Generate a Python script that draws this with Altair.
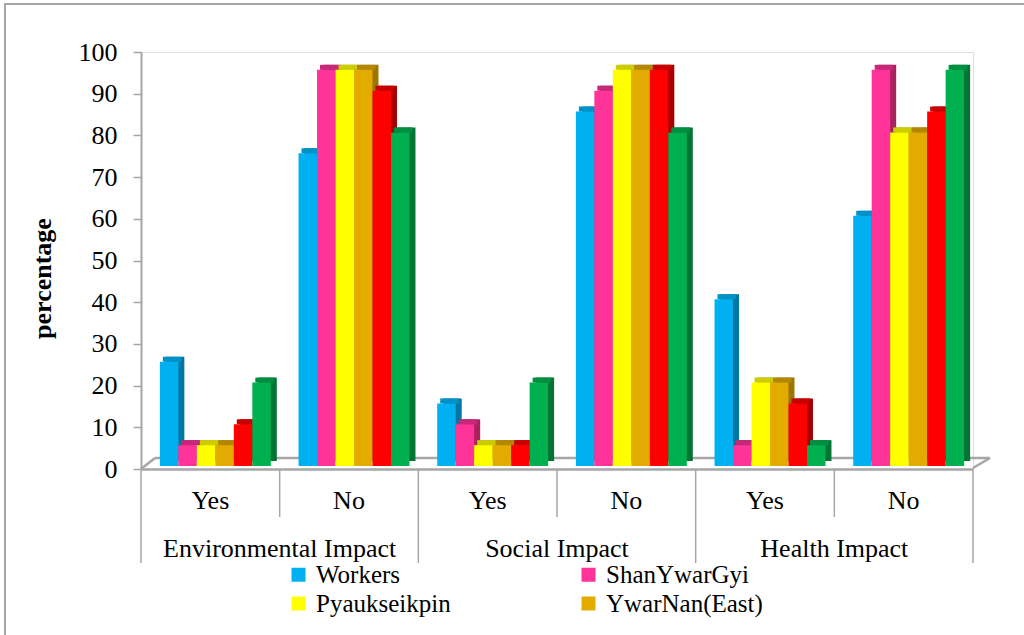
import altair as alt
import pandas as pd

# Categories and series
groups = ["Environmental Impact", "Social Impact", "Health Impact"]
answers = ["Yes", "No"]
series = ["Workers", "ShanYwarGyi", "Pyaukseikpin", "YwarNan(East)", "Series 5", "Series 6"]
legend_series = ["Workers", "ShanYwarGyi", "Pyaukseikpin", "YwarNan(East)"]

# Percentages per series, in order Env Yes/No, Social Yes/No, Health Yes/No
workers = [25, 75, 15, 85, 40, 60]
shan_ywar_gyi = [5, 95, 10, 90, 5, 95]
pyaukseikpin = [5, 95, 5, 95, 20, 80]
ywar_nan_east = [5, 95, 5, 95, 20, 80]
series_5 = [10, 90, 5, 95, 15, 85]
series_6 = [20, 80, 20, 80, 5, 95]

y_ticks = list(range(0, 101, 10))

# Face colours: front, side (shadowed) and top of each column
front_colors = ["#00B0F0", "#FF3399", "#FFFF00", "#E3AB00", "#FF0000", "#00B050"]
side_colors = ["#0076A3", "#A8225F", "#A8A800", "#9C7600", "#A80000", "#007534"]
top_colors = ["#0091C6", "#C62878", "#CCCC00", "#B38700", "#C80000", "#008E41"]

values = [workers, shan_ywar_gyi, pyaukseikpin, ywar_nan_east, series_5, series_6]
cats = [f"{g}|{a}" for g in groups for a in answers]
rows = []
for s, vals in zip(series, values):
    for i, v in enumerate(vals):
        rows.append({"cat": cats[i], "series": s, "value": v})
df = pd.DataFrame(rows)

W, H = 832, 417
step = W / 6
FONT = "Liberation Serif"
GRAY = "#A6A6A6"

x_axis = alt.Axis(
    title=None, ticks=False, domainColor=GRAY, domainWidth=2.5,
    labelExpr="split(datum.label, '|')[1]", labelFont=FONT, labelFontSize=26,
    labelColor="black", labelPadding=18, labelAngle=0,
)
y_axis = alt.Axis(
    title="percentage", values=y_ticks, grid=False,
    labelFont=FONT, labelFontSize=26, labelColor="black", labelPadding=16,
    tickSize=8, tickColor=GRAY, tickWidth=1.5, domainColor=GRAY, domainWidth=2,
    titleFont=FONT, titleFontSize=26, titleFontWeight="bold", titleColor="black",
    titleAngle=-90, titleX=-99, titleY=226, titleAlign="center", titleBaseline="middle",
)

x_enc = alt.X("cat:N", sort=cats, scale=alt.Scale(paddingInner=0, paddingOuter=0), axis=x_axis)
y_enc = alt.Y("value:Q", scale=alt.Scale(domain=[0, 100], nice=False), axis=y_axis)


def offset_enc(shift):
    return alt.XOffset(
        "series:N", sort=series,
        scale=alt.Scale(range=[shift, shift + step], paddingInner=0, paddingOuter=0.75),
    )


base = alt.Chart(df)

side = base.mark_bar(yOffset=-8, y2Offset=-8, strokeWidth=0).encode(
    x=x_enc, xOffset=offset_enc(11), y=y_enc,
    color=alt.Color("series:N", scale=alt.Scale(domain=series, range=side_colors), legend=None),
)
top = base.mark_bar(yOffset=-8, y2Offset=-3, strokeWidth=0).encode(
    x=x_enc, xOffset=offset_enc(8), y=y_enc, y2=alt.Y2("value:Q"),
    color=alt.Color("series:N", scale=alt.Scale(domain=series, range=top_colors), legend=None),
)
front = base.mark_bar(yOffset=-3, y2Offset=-3, strokeWidth=0).encode(
    x=x_enc, xOffset=offset_enc(5), y=y_enc,
    color=alt.Color(
        "series:N",
        scale=alt.Scale(domain=series, range=front_colors),
        legend=alt.Legend(
            title=None, values=legend_series, orient="none", direction="horizontal",
            legendX=145, legendY=510,
            columns=2, columnPadding=125, rowPadding=3,
            symbolType="square", symbolSize=196, symbolStrokeWidth=0,
            labelFont=FONT, labelFontSize=25, labelColor="black", labelOffset=5,
            labelExpr="datum.label == 'Workers' ? '\u00a0Workers' : datum.label",
        ),
    ),
)

one = pd.DataFrame({"k": [0]})
frame = alt.Chart(one).mark_rect(fill=None, stroke=GRAY, strokeWidth=2).encode(
    x=alt.value(-136), x2=alt.value(1100), y=alt.value(-48), y2=alt.value(700)
)
floor_back = alt.Chart(one).mark_rule(color=GRAY, strokeWidth=2.5).encode(
    x=alt.value(14), x2=alt.value(849), y=alt.value(406), y2=alt.value(406)
)
floor_left = alt.Chart(one).mark_rule(color=GRAY, strokeWidth=2.5).encode(
    x=alt.value(0), x2=alt.value(14), y=alt.value(417), y2=alt.value(406)
)
floor_right = alt.Chart(one).mark_rule(color=GRAY, strokeWidth=2.5).encode(
    x=alt.value(832), x2=alt.value(849), y=alt.value(416), y2=alt.value(406)
)

# Category separators under the floor
short_sep = alt.Chart(pd.DataFrame({"cat": [f"{g}|No" for g in groups]})).mark_rule(
    color=GRAY, strokeWidth=1.5
).encode(
    x=alt.X("cat:N", sort=cats, bandPosition=0, axis=x_axis),
    y=alt.value(417), y2=alt.value(465),
)
long_sep = alt.Chart(pd.DataFrame({"cat": [f"{g}|Yes" for g in groups]})).mark_rule(
    color=GRAY, strokeWidth=1.5
).encode(
    x=alt.X("cat:N", sort=cats, bandPosition=0, axis=x_axis),
    y=alt.value(417), y2=alt.value(511),
)
end_sep = alt.Chart(pd.DataFrame({"cat": [cats[-1]]})).mark_rule(
    color=GRAY, strokeWidth=1.5
).encode(
    x=alt.X("cat:N", sort=cats, bandPosition=1, axis=x_axis),
    y=alt.value(417), y2=alt.value(511),
)
group_labels = alt.Chart(
    pd.DataFrame({"cat": [f"{g}|No" for g in groups], "group": groups})
).mark_text(font=FONT, fontSize=26, color="black", baseline="middle").encode(
    x=alt.X("cat:N", sort=cats, bandPosition=0, axis=x_axis),
    y=alt.value(497), text="group:N",
)

chart = alt.layer(
    frame, floor_back, floor_left, floor_right, side, top, front,
    short_sep, long_sep, end_sep, group_labels,
).resolve_scale(color="independent", xOffset="independent").properties(
    width=W, height=H,
    autosize=alt.AutoSizeParams(type="none"),
    padding={"left": 141, "top": 52, "right": 51, "bottom": 166},
).configure_view(stroke=None).configure(
    background="white", font=FONT
).configure_axis(
    labelFont=FONT, titleFont=FONT
).configure_legend(
    labelFont=FONT
)

chart.save("out.html", embed_options={"renderer": "svg", "actions": False})
